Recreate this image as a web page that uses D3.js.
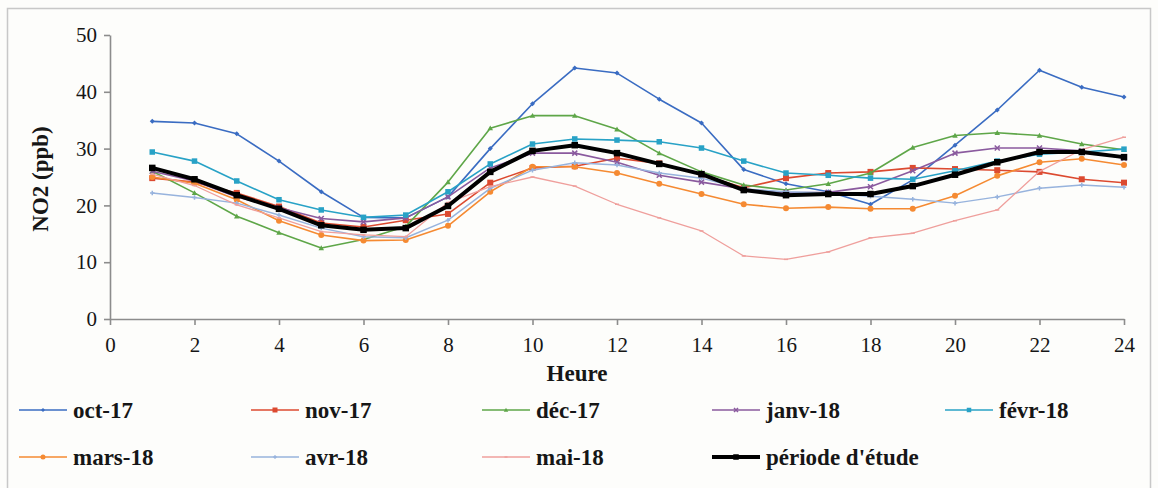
<!DOCTYPE html>
<html>
<head>
<meta charset="utf-8">
<script src="https://cdn.jsdelivr.net/npm/d3@7"></script>
<style>
  html, body { margin: 0; padding: 0; background: #fdfdfb; }
  svg { display: block; }
  text { font-family: "Liberation Serif", "Times New Roman", serif; fill: #161616; }
</style>
</head>
<body>
<svg id="chart" width="1158" height="488"></svg>
<script>
// Hourly mean NO2 (ppb) per month, hours 1..24
const hours = d3.range(1, 25);
const xTicks = d3.range(0, 25, 2);
const yTicks = [0, 10, 20, 30, 40, 50];

const oct17  = [34.8, 34.5, 32.6, 27.8, 22.4, 17.9, 17.8, 21.5, 30.0, 37.9, 44.2, 43.3, 38.7, 34.5, 26.3, 23.8, 22.4, 20.2, 24.5, 30.6, 36.8, 43.8, 40.8, 39.1];
const nov17  = [24.8, 24.1, 22.2, 19.8, 16.9, 16.2, 17.4, 18.5, 24.0, 26.6, 26.9, 28.3, 27.4, 25.4, 23.1, 24.8, 25.7, 25.9, 26.6, 26.4, 26.2, 25.9, 24.6, 24.0];
const dec17  = [26.0, 22.2, 18.1, 15.2, 12.5, 14.0, 16.3, 24.1, 33.6, 35.8, 35.8, 33.4, 29.2, 25.9, 23.6, 22.7, 23.8, 25.7, 30.2, 32.3, 32.8, 32.3, 30.8, 29.8];
const janv18 = [26.0, 24.3, 21.5, 19.6, 17.7, 17.1, 17.8, 21.5, 26.6, 29.2, 29.2, 27.6, 25.3, 24.1, 22.9, 22.2, 22.3, 23.3, 26.1, 29.2, 30.1, 30.1, 29.6, 28.3];
const fevr18 = [29.4, 27.8, 24.3, 21.0, 19.2, 17.9, 18.3, 22.4, 27.3, 30.8, 31.7, 31.5, 31.2, 30.1, 27.8, 25.7, 25.3, 24.8, 24.6, 26.1, 27.8, 29.0, 29.4, 29.9];
const mars18 = [25.0, 23.9, 21.0, 17.3, 14.8, 13.8, 13.9, 16.4, 22.4, 26.8, 26.8, 25.7, 23.8, 22.0, 20.2, 19.5, 19.7, 19.4, 19.4, 21.7, 25.2, 27.6, 28.2, 27.1];
const avr18  = [22.2, 21.4, 20.4, 18.3, 16.0, 14.5, 14.3, 17.4, 23.0, 26.2, 27.5, 27.1, 25.7, 24.8, 22.9, 22.4, 22.2, 21.6, 21.1, 20.4, 21.5, 23.0, 23.6, 23.2];
const mai18  = [25.5, 23.5, 20.1, 17.8, 15.4, 14.8, 14.5, 20.5, 23.3, 25.0, 23.4, 20.2, 17.8, 15.5, 11.1, 10.5, 11.8, 14.3, 15.1, 17.3, 19.2, 26.0, 29.8, 32.0];
const periode = [26.6, 24.6, 21.8, 19.4, 16.5, 15.7, 16.0, 19.9, 25.9, 29.6, 30.6, 29.2, 27.3, 25.5, 22.7, 21.8, 22.0, 22.0, 23.4, 25.4, 27.6, 29.4, 29.4, 28.5];

const seriesNames = ["oct-17", "nov-17", "déc-17", "janv-18", "févr-18", "mars-18", "avr-18", "mai-18", "période d'étude"];
const seriesValues = [oct17, nov17, dec17, janv18, fevr18, mars18, avr18, mai18, periode];

// Styling per series: colour, marker shape, line width
const seriesColors = ["#3a6cc2", "#dc4a30", "#5ea648", "#8a5a9e", "#28a2c6", "#f58a32", "#97b3dd", "#ef9f9c", "#000000"];
const seriesShapes = ["diamond", "square", "triangle", "cross", "square", "circle", "plus", "dash", "square"];
const seriesWidths = [1.6, 1.6, 1.6, 1.6, 1.6, 1.6, 1.5, 1.3, 4];
const seriesMarker = [5, 6, 5.5, 5, 5.5, 6, 4.5, 4, 6.5];

const svg = d3.select("#chart");

// outer frame
svg.append("rect")
  .attr("x", 7.5).attr("y", 8.5)
  .attr("width", 1143).attr("height", 490)
  .attr("fill", "#fdfdfb").attr("stroke", "#c8c8c8").attr("stroke-width", 1.5);

const x = d3.scaleLinear().domain([0, 24]).range([110, 1124]);
const y = d3.scaleLinear().domain([0, 50]).range([319, 35]);

// axes
const xAxis = svg.append("g").attr("transform", `translate(0,${y(0)})`)
  .call(d3.axisBottom(x).tickValues(xTicks).tickSize(6).tickSizeOuter(0).tickPadding(9));
const yAxis = svg.append("g").attr("transform", `translate(${x(0)},0)`)
  .call(d3.axisLeft(y).tickValues(yTicks).tickSize(6).tickSizeOuter(0).tickPadding(7));

[xAxis, yAxis].forEach(g => {
  g.select(".domain").attr("stroke", "#8c8c8c").attr("stroke-width", 1.6);
  g.selectAll(".tick line").attr("stroke", "#8c8c8c").attr("stroke-width", 1.6);
  g.selectAll(".tick text").attr("font-size", 21).attr("font-family", "Liberation Serif").attr("fill", "#161616");
});
xAxis.selectAll(".tick text").attr("dy", "0.85em");

// axis titles
svg.append("text").attr("x", 577).attr("y", 381)
  .attr("text-anchor", "middle").attr("font-size", 23).attr("font-weight", "bold").text("Heure");
svg.append("text").attr("transform", `translate(48,${(y(0) + y(50)) / 2 + 2}) rotate(-90)`)
  .attr("text-anchor", "middle").attr("font-size", 23).attr("font-weight", "bold").text("NO2 (ppb)");

function marker(g, shape, cx, cy, s, color) {
  const h = s / 2;
  if (shape === "diamond") {
    g.append("path").attr("d", `M${cx},${cy - h}L${cx + h},${cy}L${cx},${cy + h}L${cx - h},${cy}Z`).attr("fill", color);
  } else if (shape === "square") {
    g.append("rect").attr("x", cx - h).attr("y", cy - h).attr("width", s).attr("height", s).attr("fill", color);
  } else if (shape === "triangle") {
    g.append("path").attr("d", `M${cx},${cy - h}L${cx + h},${cy + h * 0.8}L${cx - h},${cy + h * 0.8}Z`).attr("fill", color);
  } else if (shape === "circle") {
    g.append("circle").attr("cx", cx).attr("cy", cy).attr("r", h).attr("fill", color);
  } else if (shape === "cross") {
    g.append("path").attr("d", `M${cx - h},${cy - h}L${cx + h},${cy + h}M${cx + h},${cy - h}L${cx - h},${cy + h}`)
      .attr("stroke", color).attr("stroke-width", 1.5);
  } else if (shape === "plus") {
    g.append("path").attr("d", `M${cx - h},${cy}L${cx + h},${cy}M${cx},${cy - h}L${cx},${cy + h}`)
      .attr("stroke", color).attr("stroke-width", 1.5);
  } else if (shape === "dash") {
    g.append("path").attr("d", `M${cx - h},${cy}L${cx + h},${cy}`).attr("stroke", color).attr("stroke-width", 1.5);
  }
}

const line = d3.line().x((d, i) => x(hours[i])).y(d => y(d));

const plot = svg.append("g");
seriesValues.forEach((vals, k) => {
  const g = plot.append("g");
  g.append("path").datum(vals).attr("d", line)
    .attr("fill", "none").attr("stroke", seriesColors[k]).attr("stroke-width", seriesWidths[k])
    .attr("stroke-linejoin", "round");
  vals.forEach((v, i) => marker(g, seriesShapes[k], x(hours[i]), y(v), seriesMarker[k], seriesColors[k]));
});

// legend: 5 columns, 2 rows
const legendX = [19, 251, 482, 712, 945];
const legendY = [410, 457];
seriesNames.forEach((name, k) => {
  const col = k % 5, row = Math.floor(k / 5);
  const lx = legendX[col], ly = legendY[row];
  const g = svg.append("g");
  g.append("line").attr("x1", lx).attr("x2", lx + 48).attr("y1", ly).attr("y2", ly)
    .attr("stroke", seriesColors[k]).attr("stroke-width", seriesWidths[k]);
  marker(g, seriesShapes[k], lx + 24, ly, seriesMarker[k] - 1, seriesColors[k]);
  g.append("text").attr("x", lx + 54).attr("y", ly + 8)
    .attr("font-size", 23).attr("font-weight", "bold").text(name);
});
</script>
</body>
</html>
